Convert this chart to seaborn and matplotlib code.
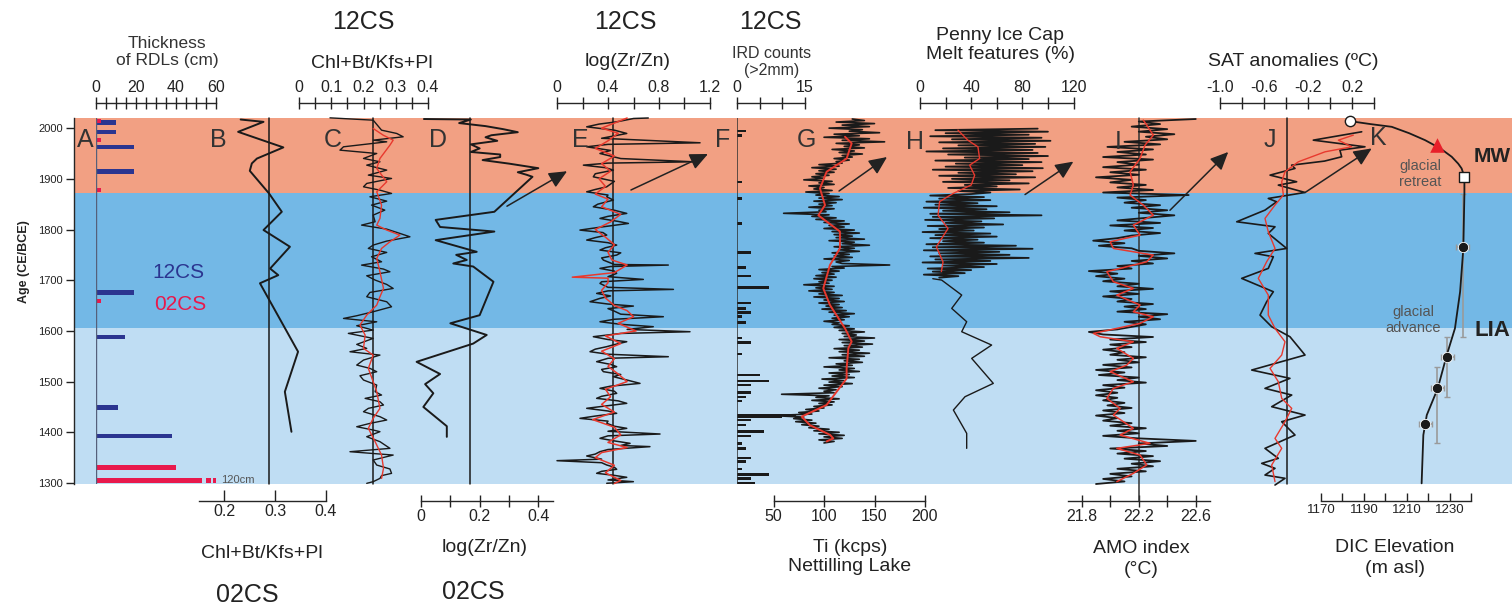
import numpy as np
import pandas as pd
import seaborn as sns
import matplotlib.pyplot as plt

sns.set_style("ticks")
plt.rcParams['font.family'] = ['Liberation Sans', 'DejaVu Sans']

# ---------------- data ----------------
# climate periods (CE)
period_lo = [1872, 1605, 1298]
period_hi = [2020, 1872, 1605]
period_colors = ['#F2A083', '#73B8E6', '#BFDDF3']

# A - thickness of RDLs (cm)
rdl12_years = [2011, 1992, 1963, 1915, 1676, 1588, 1449, 1393]
rdl12_cm = [10, 10, 19, 19, 19, 14.5, 11, 38]
rdl02_years = [2014, 1977, 1878, 1659, 1331, 1305]
rdl02_cm = [2.5, 2.5, 2.5, 2.5, 40, 120]
rdl_cap = 53  # longest bar is drawn broken at this length

# B - 02CS Chl+Bt/Kfs+Pl
b02_years = [2017, 2012.4, 1992.7, 1962, 1940, 1930.4, 1915.8, 1871, 1835, 1799,
             1766, 1723, 1710, 1694, 1559, 1480, 1401]
b02_vals = [0.232, 0.277, 0.227, 0.316, 0.264, 0.254, 0.250, 0.288, 0.313, 0.277,
            0.329, 0.290, 0.306, 0.270, 0.345, 0.319, 0.332]

# C - 12CS Chl+Bt/Kfs+Pl
c12_years = [2020.3, 2015.7, 1996.0, 1989.5, 1982.9, 1976.3, 1973.0, 1963.2, 1956.6, 1950.0,
             1940.2, 1933.6, 1927.0, 1917.2, 1907.3, 1900.7, 1890.9, 1884.3, 1877.7, 1871.2,
             1864.6, 1856.0, 1848.2, 1838.3, 1828.4, 1815.3, 1808.7, 1800.8, 1792.3, 1785.7,
             1777.2, 1769.3, 1762.7, 1754.8, 1746.3, 1736.4, 1729.8, 1722.0, 1716.7, 1708.8,
             1700.3, 1691.7, 1683.8, 1675.9, 1667.4, 1657.5, 1647.6, 1637.8, 1629.9, 1624.6,
             1618.0, 1610.2, 1601.6, 1595.1, 1585.2, 1573.4, 1565.5, 1558.9, 1552.3, 1542.5,
             1532.6, 1526.1, 1519.5, 1511.6, 1503.1, 1493.2, 1480.1, 1473.5, 1466.9, 1460.3,
             1453.8, 1447.2, 1440.6, 1430.8, 1424.2, 1417.6, 1411.0, 1404.5, 1401.2, 1391.3,
             1381.5, 1368.3, 1361.7, 1355.1, 1345.3, 1335.4, 1327.6, 1319.0, 1314.5, 1309.1,
             1302.6, 1299.3]
c12_vals = [0.096, 0.230, 0.256, 0.303, 0.323, 0.230, 0.272, 0.138, 0.127, 0.241,
            0.200, 0.251, 0.210, 0.272, 0.215, 0.287, 0.210, 0.200, 0.251, 0.287,
            0.220, 0.272, 0.225, 0.266, 0.230, 0.236, 0.194, 0.272, 0.313, 0.344,
            0.272, 0.230, 0.215, 0.272, 0.225, 0.256, 0.194, 0.262, 0.282, 0.210,
            0.236, 0.272, 0.292, 0.220, 0.210, 0.272, 0.287, 0.230, 0.179, 0.138,
            0.241, 0.179, 0.230, 0.153, 0.230, 0.179, 0.210, 0.158, 0.251, 0.200,
            0.179, 0.220, 0.241, 0.189, 0.200, 0.241, 0.236, 0.256, 0.205, 0.251,
            0.262, 0.215, 0.200, 0.251, 0.272, 0.220, 0.179, 0.230, 0.251, 0.210,
            0.251, 0.282, 0.158, 0.292, 0.230, 0.241, 0.282, 0.287, 0.256, 0.251,
            0.230, 0.210]
c12_smooth_years = [1999.3, 1986.2, 1976.3, 1966.5, 1940.2, 1920.5, 1894.2, 1874.4, 1848.2, 1821.9,
                    1808.7, 1798.9, 1789.0, 1775.9, 1762.7, 1743.0, 1716.7, 1683.8, 1667.4, 1650.9,
                    1631.2, 1611.5, 1591.8, 1565.5, 1552.3, 1526.1, 1499.8, 1480.1, 1447.2, 1427.5,
                    1407.8, 1381.5, 1355.1, 1328.9, 1309.1]
c12_smooth = [0.230, 0.261, 0.292, 0.282, 0.251, 0.241, 0.272, 0.241, 0.256, 0.251,
              0.241, 0.272, 0.313, 0.282, 0.256, 0.241, 0.251, 0.262, 0.251, 0.241,
              0.210, 0.189, 0.205, 0.200, 0.230, 0.215, 0.230, 0.241, 0.251, 0.230,
              0.215, 0.236, 0.256, 0.262, 0.256]

# D - 02CS log(Zr/Zn)
d02_years = [2018, 2017, 2010, 2004, 1998, 1992, 1986, 1982, 1975, 1968,
             1960, 1953, 1948, 1943, 1937, 1930, 1921, 1913, 1908, 1904,
             1835, 1819, 1805, 1796, 1779, 1756, 1750, 1740, 1733, 1727,
             1697, 1631, 1615, 1592, 1575, 1539, 1515, 1495, 1477, 1450,
             1412, 1391]
d02_vals = [0.01, 0.17, 0.13, 0.22, 0.28, 0.33, 0.24, 0.22, 0.26, 0.17,
            0.20, 0.17, 0.27, 0.27, 0.21, 0.30, 0.40, 0.33, 0.36, 0.38,
            0.25, 0.05, 0.065, 0.25, 0.05, 0.19, 0.12, 0.156, 0.11, 0.178,
            0.247, 0.20, 0.10, 0.224, 0.178, -0.015, 0.065, 0.014, 0.042, 0.008,
            0.088, 0.088]

# E - 12CS log(Zr/Zn)
e12_years = [2020, 2019, 2012.5, 2008, 2002.6, 1996, 1989.5, 1980, 1971.1, 1968,
             1963.2, 1956, 1950, 1940, 1933.6, 1931, 1927, 1922, 1917.2, 1910,
             1904, 1895, 1884.3, 1879, 1874.4, 1868, 1864.6, 1858.1, 1850, 1844.9,
             1838, 1831.8, 1826, 1821.9, 1816, 1812, 1805, 1798.9, 1794, 1789,
             1784, 1779.2, 1774, 1769.3, 1764, 1759.5, 1754, 1749.6, 1744, 1739.7,
             1731, 1729.9, 1727, 1723.3, 1718, 1713.5, 1707, 1701.6, 1697, 1693.7,
             1686, 1681.9, 1679, 1674, 1669, 1664.2, 1657.6, 1653, 1649, 1644,
             1639.9, 1633, 1628, 1623, 1618.1, 1613, 1608.3, 1603, 1598.4, 1595,
             1588.6, 1583, 1578.7, 1573, 1568.9, 1564, 1559, 1554, 1549.1, 1546,
             1539.3, 1534, 1529.4, 1524, 1519.6, 1514, 1509.7, 1503, 1496.5, 1491,
             1486.7, 1481, 1476.8, 1471, 1467, 1462, 1457.1, 1452, 1447.3, 1442,
             1437.4, 1432, 1427.5, 1422, 1417.7, 1412, 1407.8, 1402, 1396.6, 1393,
             1388.1, 1383, 1378.2, 1374, 1371.7, 1366, 1361.8, 1357, 1353.3, 1347,
             1344, 1340, 1335.5, 1331, 1327, 1323, 1319.1, 1315, 1311.2, 1306,
             1302.6, 1299.4]
e12_vals = [0.716, 0.60, 0.47, 0.33, 0.233, 0.45, 0.547, 0.35, 1.122, 0.40,
            0.233, 0.42, 0.337, 0.50, 1.069, 0.40, 0.207, 0.38, 0.442, 0.30,
            0.285, 0.45, 0.39, 0.30, 0.233, 0.40, 0.39, 0.442, 0.32, 0.285,
            0.45, 0.547, 0.40, 0.337, 0.48, 0.560, 0.35, 0.180, 0.36, 0.390,
            0.30, 0.233, 0.40, 0.468, 0.38, 0.337, 0.50, 0.468, 0.35, 0.364,
            0.45, 0.873, 0.42, 0.337, 0.45, 0.468, 0.40, 0.677, 0.35, 0.337,
            0.40, 0.913, 0.40, 0.311, 0.42, 0.337, 0.259, 0.40, 0.599, 0.40,
            0.442, 0.50, 0.834, 0.45, 0.337, 0.50, 0.755, 0.55, 1.043, 0.50,
            0.285, 0.40, 0.547, 0.45, 0.390, 0.30, 0.259, 0.40, 0.873, 0.40,
            0.311, 0.42, 0.468, 0.35, 0.364, 0.50, 0.442, 0.55, 0.651, 0.42,
            0.337, 0.45, 0.468, 0.35, 0.311, 0.48, 0.547, 0.38, 0.233, 0.40,
            0.468, 0.30, 0.180, 0.40, 0.390, 0.45, 0.547, 0.40, 0.808, 0.40,
            0.337, 0.45, 0.573, 0.50, 0.729, 0.40, 0.337, 0.30, 0.233, 0.35,
            0.0, 0.35, 0.390, 0.45, 0.468, 0.35, 0.311, 0.45, 0.547, 0.40,
            0.599, 0.390]
e12_smooth_years = [2020, 2010, 2000, 1990, 1975, 1960, 1945, 1930, 1915, 1900,
                    1885, 1870, 1860, 1845, 1830, 1815, 1800, 1785, 1770, 1755,
                    1740, 1730, 1715, 1706, 1704, 1695, 1680, 1665, 1650, 1640,
                    1628, 1615, 1600, 1590, 1575, 1560, 1545, 1530, 1515, 1500,
                    1485, 1470, 1455, 1440, 1425, 1410, 1395, 1380, 1370, 1360,
                    1350, 1335, 1320, 1305, 1299]
e12_smooth = [0.55, 0.45, 0.35, 0.48, 0.40, 0.30, 0.45, 0.35, 0.42, 0.33,
              0.38, 0.30, 0.40, 0.35, 0.50, 0.42, 0.30, 0.38, 0.45, 0.40,
              0.43, 0.55, 0.45, 0.12, 0.40, 0.40, 0.35, 0.38, 0.45, 0.55,
              0.60, 0.48, 0.62, 0.38, 0.50, 0.35, 0.45, 0.40, 0.48, 0.55,
              0.38, 0.42, 0.35, 0.45, 0.28, 0.45, 0.50, 0.40, 0.55, 0.35,
              0.30, 0.45, 0.38, 0.50, 0.45]

# F - IRD counts (>2 mm), 12CS
ird_years = [1994, 1986, 1894, 1861, 1812, 1755, 1725, 1708, 1686, 1655,
             1644, 1636, 1628, 1617, 1586, 1577, 1554, 1513, 1501, 1493,
             1478, 1470, 1462, 1434, 1430, 1424, 1414, 1402, 1393, 1378,
             1368, 1349, 1342, 1328, 1317, 1309, 1300]
ird_counts = [2, 1, 1, 1, 1, 3, 2, 3, 7, 3,
              2, 3, 1, 2, 1, 3, 1, 5, 7, 3,
              3, 2, 1, 13, 10, 3, 2, 6, 3, 1,
              2, 3, 2, 1, 7, 3, 4]

# G - Ti (kcps) Nettilling Lake, 3-yr samples from 2018 downward
ti_start, ti_step = 2018, 3
ti_vals = [128, 140, 112, 150, 118, 145, 105, 138, 125, 155, 110, 135, 100, 145, 118, 160,
           112, 135, 120, 140, 108, 130, 115, 138, 118, 128, 110, 125, 112, 118, 95, 115,
           88, 112, 95, 110, 92, 105, 88, 100, 80, 108, 95, 110, 85, 100, 90, 108,
           82, 105, 92, 115, 95, 118, 90, 112, 95, 108, 85, 110, 95, 102, 60, 105,
           88, 112, 92, 120, 100, 125, 105, 120, 100, 130, 108, 135, 110, 128, 112, 140,
           105, 130, 118, 145, 110, 130, 115, 135, 108, 125, 110, 128, 100, 125, 112, 118,
           165, 108, 120, 95, 115, 98, 110, 92, 112, 90, 108, 95, 105, 80, 110, 92,
           108, 85, 110, 95, 118, 90, 115, 100, 120, 95, 115, 102, 118, 98, 122, 105,
           130, 110, 125, 108, 120, 100, 115, 108, 125, 110, 130, 115, 140, 118, 132, 120,
           150, 115, 140, 118, 148, 120, 138, 110, 135, 115, 145, 118, 140, 105, 135, 120,
           138, 112, 128, 100, 130, 115, 135, 105, 125, 108, 130, 98, 120, 105, 128, 100,
           118, 95, 112, 100, 110, 58, 105, 92, 115, 88, 110, 95, 108, 90, 100, 82,
           95, 75, 88, 48, 80, 70, 88, 72, 92, 78, 95, 85, 105, 90, 115, 95,
           120, 100, 118, 95, 110, 100]
ti_smooth_years = [1983, 1970, 1940, 1914, 1881, 1848, 1828, 1796, 1763, 1730, 1684, 1651,
                   1605, 1579, 1566, 1526, 1506, 1480, 1454, 1431, 1414, 1395, 1388, 1382]
ti_smooth = [120.8, 127.4, 122.4, 102.6, 96.0, 101.0, 94.4, 115.8, 115.8, 105.9, 99.3, 105.9,
             120.8, 127.4, 124.1, 122.4, 122.4, 112.5, 102.6, 77.9, 86.1, 105.9, 109.2, 102.6]

# H - Penny Ice Cap melt features (%), 3-yr samples from 1999 downward
melt_start, melt_step = 1999, 3
melt_vals = [92, 12, 100, 20, 85, 8, 95, 25, 102, 15, 90, 30, 98, 18, 88, 5,
             92, 22, 100, 35, 85, 12, 95, 28, 80, 20, 96, 10, 88, 30, 75, 15,
             90, 25, 70, 18, 85, 35, 60, 22, 78, 30, 55,
             40, 8, 50, 15, 55, 5, 45, 12, 60, 3, 52, 18, 70, 8, 95, 10,
             58, 4, 48, 20, 65, 6, 50, 15, 42, 2, 55, 12, 60, 8, 45, 18,
             50, 5, 75, 10, 88, 3, 62, 15, 70, 8, 85, 12, 55, 2, 60, 18,
             50, 6, 40, 10, 35, 3, 30, 15]
melt_low_years = [1703, 1700.3, 1670.7, 1644.4, 1618.1, 1598.4, 1572.1, 1545.8, 1496.5,
                  1470.2, 1443.9, 1397.9, 1368.3]
melt_low_vals = [10, 16.9, 32.6, 24.8, 36.5, 32.6, 56.0, 40.4, 57.3, 35.2, 26.1, 36.5, 36.5]
melt_smooth_years = [1996, 1976, 1963, 1940, 1927, 1907, 1888, 1871, 1855, 1828, 1802, 1766,
                     1736, 1717]
melt_smooth = [29.7, 37.5, 45.3, 46.6, 38.8, 42.7, 40.1, 25.8, 15.3, 14.1, 21.9, 12.8,
               18.0, 16.7]

# I - AMO index (degC), 5-yr samples from 2018 downward
amo_start, amo_step = 2018, 5
amo_vals = [22.60, 22.20, 22.35, 22.15, 22.40, 22.20, 22.45, 22.25, 22.40, 22.10,
            22.35, 21.98, 22.30, 22.05, 22.25, 21.95, 22.30, 22.05, 22.20, 21.95,
            22.25, 22.00, 22.20, 21.90, 22.15, 22.00, 22.25, 22.05, 22.30, 21.95,
            22.55, 22.05, 22.25, 22.10, 22.35, 22.15, 22.40, 22.20, 22.45, 22.25,
            22.05, 22.35, 22.00, 22.30, 22.10, 22.35, 22.15, 22.05, 21.88, 22.10,
            21.92, 22.15, 22.20, 22.45, 22.20, 22.40, 22.15, 22.30, 22.05, 22.15,
            21.85, 22.05, 21.90, 22.10, 21.95, 22.20, 22.05, 22.30, 22.00, 22.20,
            21.95, 22.15, 22.05, 22.30, 22.10, 22.25, 22.05, 22.40, 22.20, 22.35,
            22.10, 22.25, 22.15, 22.05, 21.85, 21.95, 22.30, 22.00, 22.25, 22.00,
            22.15, 21.95, 22.10, 22.00, 22.25, 22.05, 22.20, 21.95, 22.15, 21.90,
            22.10, 21.92, 22.20, 22.05, 22.25, 21.95, 22.10, 21.90, 22.05, 21.90,
            22.05, 21.95, 22.10, 21.98, 22.15, 21.95, 22.10, 21.90, 22.05, 21.95,
            22.15, 22.00, 22.25, 22.05, 22.20, 21.95, 22.20, 22.60, 22.20, 22.40,
            22.00, 22.25, 22.05, 22.30, 22.10, 22.35, 22.15, 22.30, 22.05, 22.25,
            22.00, 22.15, 21.95, 22.10, 21.90]
amo_smooth_years = [2015.8, 2005.9, 1986.2, 1966.5, 1940.2, 1913.9, 1887.6, 1867.9, 1848.2, 1828.4,
                    1808.7, 1789.0, 1775.9, 1762.7, 1749.6, 1736.4, 1716.7, 1697.0, 1683.8, 1670.7,
                    1651.0, 1637.8, 1628.0, 1614.8, 1595.1, 1588.5, 1578.7, 1565.5, 1545.8, 1532.6,
                    1519.5, 1499.8, 1486.6, 1466.9, 1447.2, 1434.0, 1407.8, 1394.6, 1378.2, 1368.3,
                    1355.1, 1335.5, 1319.0, 1302.6]
amo_smooth = [22.232, 22.256, 22.302, 22.244, 22.209, 22.139, 22.162, 22.139, 22.232, 22.302,
              22.162, 22.209, 21.999, 22.022, 22.302, 22.256, 21.976, 22.022, 22.162, 22.046,
              22.209, 22.162, 22.302, 22.209, 21.882, 21.929, 22.162, 22.046, 22.162, 22.116,
              21.999, 22.162, 22.022, 21.976, 22.069, 22.022, 22.162, 22.069, 22.279, 22.046,
              22.209, 22.256, 22.162, 22.046]

# J - SAT anomalies (degC)
sat_years = [1992.8, 1976.3, 1963.2, 1956.6, 1943.5, 1935, 1927.0, 1920.5, 1907.3, 1894.2,
             1887.6, 1873.1, 1861.3, 1854.7, 1838.3, 1815.3, 1805.4, 1792.3, 1762.7, 1752.9,
             1746.3, 1723.3, 1703.6, 1677.3, 1657.5, 1631.2, 1608.2, 1588.5, 1552.4, 1522.8,
             1506.4, 1486.6, 1473.5, 1450.5, 1434.0, 1420.9, 1394.6, 1368.3, 1348.6, 1338.7,
             1328.9, 1315.7, 1309.2, 1296.0]
sat_vals = [0.288, -0.152, 0.318, 0.090, 0.106, -0.05, -0.349, -0.318, -0.545, -0.303,
            -0.470, -0.227, -0.561, -0.485, -0.591, -0.848, -0.500, -0.561, -0.394, -0.682,
            -0.515, -0.561, -0.803, -0.515, -0.576, -0.636, -0.530, -0.364, -0.227, -0.712,
            -0.364, -0.591, -0.348, -0.530, -0.227, -0.439, -0.318, -0.591, -0.470, -0.621,
            -0.500, -0.591, -0.409, -0.500]
sat_smooth_years = [1986.2, 1976.3, 1963.2, 1953.3, 1933.6, 1913.9, 1894.2, 1867.9, 1848.2, 1821.9,
                    1795.6, 1762.7, 1736.4, 1703.6, 1670.7, 1631.2, 1604.9, 1578.7, 1552.4, 1526.1,
                    1499.8, 1466.9, 1447.2, 1420.9, 1388.0, 1368.3, 1335.5, 1302.6]
sat_smooth = [0.212, 0.076, 0.197, -0.045, -0.288, -0.409, -0.439, -0.424, -0.500, -0.591,
              -0.561, -0.500, -0.576, -0.652, -0.561, -0.561, -0.500, -0.409, -0.439, -0.545,
              -0.470, -0.439, -0.348, -0.409, -0.500, -0.439, -0.530, -0.500]

# K - DIC elevation (m asl)
dic_years = [2013.8, 2008, 2002.6, 1990, 1976.3, 1960, 1943.5, 1930, 1920.5, 1904,
             1871.2, 1762.7, 1677.3, 1604.9, 1552.4, 1486.6, 1434, 1394.6, 1299.3]
dic_elev = [1183.5, 1193, 1202.9, 1211, 1218.4, 1225.5, 1230.8, 1233.8, 1235.4, 1236.7,
            1236.7, 1236.2, 1234.7, 1232.3, 1228.5, 1224.3, 1219.2, 1217.6, 1216.8]
dic_dot_years = [1764.7, 1548, 1486.6, 1415.6]
dic_dot_elev = [1235.9, 1228.8, 1224.1, 1218.5]
dic_dot_err = [3, 3, 3, 3]
dic_age_elev = [1236.2, 1228.5, 1224.1]
dic_age_lo = [1588, 1470, 1378]
dic_age_hi = [1871, 1587, 1529]

# ---------------- layout (pixels) ----------------
W, H = 1512, 607
TOP, BOT = 118, 484
YR_BOT, YR_TOP = 1298, 2020
INK = '#1a1a1a'
RED = '#E8392E'
NAVY = '#2B3590'
CRIMSON = '#E8194C'

fig = plt.figure(figsize=(W / 100, H / 100), dpi=100)


def T(x, y, s, **kw):
    kw.setdefault('ha', 'center')
    kw.setdefault('va', 'center')
    kw.setdefault('color', '#222222')
    fig.text(x / W, 1 - y / H, s, **kw)


def panel(x0, x1, lo, hi):
    ax = fig.add_axes([x0 / W, (H - BOT) / H, (x1 - x0) / W, (BOT - TOP) / H])
    ax.patch.set_visible(False)
    for s in ax.spines.values():
        s.set_visible(False)
    ax.set_yticks([])
    ax.set_xticks([])
    ax.set_xlim(lo, hi)
    ax.set_ylim(YR_BOT, YR_TOP)
    return ax


def scale(ax, side, ticks, labels, size=11.5, direction='inout', length=8):
    lo, hi = ax.get_xlim()
    sp = ax.spines[side]
    sp.set_visible(True)
    sp.set_linewidth(1.0)
    sp.set_position(('outward', (15 if side == 'top' else 17) * 0.72))
    ax.set_xticks(ticks)
    ax.set_xticklabels(labels)
    ax.tick_params(axis='x', direction=direction, length=length, width=1, labelsize=size,
                   pad=2, colors='#222222', top=side == 'top', bottom=side == 'bottom',
                   labeltop=side == 'top', labelbottom=side == 'bottom')
    ax.set_xlim(lo, hi)


def trace(ax, vals, years, color=INK, lw=1.1):
    lo, hi = ax.get_xlim()
    sns.lineplot(x=vals, y=years, sort=False, estimator=None, ax=ax, color=color, lw=lw)
    ax.set_xlabel('')
    ax.set_ylabel('')
    ax.set_xlim(lo, hi)
    ax.set_ylim(YR_BOT, YR_TOP)
    for ln in ax.lines:
        ln.set_clip_on(False)


def arrow(ax, tail, head):
    ax.annotate('', xy=head, xytext=tail, annotation_clip=False,
                arrowprops=dict(arrowstyle='-|>,head_length=0.55,head_width=0.25',
                                mutation_scale=20, color='#222222', lw=1.1,
                                shrinkA=0, shrinkB=0))


# background periods + age axis
ax0 = fig.add_axes([74 / W, (H - BOT) / H, (W - 74) / W, (BOT - TOP) / H])
for lo, hi, c in zip(period_lo, period_hi, period_colors):
    ax0.axhspan(lo, hi, color=c, lw=0)
ax0.set_ylim(YR_BOT, YR_TOP)
ax0.set_xlim(0, 1)
ax0.set_xticks([])
ax0.set_yticks(range(1300, 2001, 100))
ax0.tick_params(axis='y', length=6, width=1, labelsize=8, pad=2, colors='#222222')
for s in ['top', 'right', 'bottom']:
    ax0.spines[s].set_visible(False)
ax0.spines['left'].set_linewidth(1.0)
T(24, 262, 'Age (CE/BCE)', rotation=90, fontsize=9, fontweight='bold')

# A
axA = panel(96, 216, 0, 60)
axA.axvline(0, color='#55607a', lw=1)
axA.barh(rdl12_years, rdl12_cm, height=9, color=NAVY, lw=0)
axA.barh(rdl02_years, np.minimum(rdl02_cm, rdl_cap), height=9, color=CRIMSON, lw=0)
long02 = [y for y, v in zip(rdl02_years, rdl02_cm) if v > rdl_cap]
for y in long02:
    axA.barh([y, y], [2.5, 2.5], left=[rdl_cap + 2, rdl_cap + 5.5], height=9, color=CRIMSON, lw=0)
    axA.text(rdl_cap + 9.5, y, '%dcm' % max(rdl02_cm), fontsize=8, color='#555555',
             va='center', ha='left', clip_on=False)
scale(axA, 'top', list(range(0, 61, 5)),
      ['0', '', '', '', '20', '', '', '', '40', '', '', '', '60'])

# B
axB = panel(199, 326, 0.15, 0.40)
axB.axvline(0.288, color=INK, lw=1.1)
trace(axB, b02_vals, b02_years, lw=1.4)
scale(axB, 'bottom', [0.2, 0.3, 0.4], ['0.2', '0.3', '0.4'], direction='in')

# C
axC = panel(299, 428, 0, 0.4)
axC.axvline(0.229, color=INK, lw=1.1)
trace(axC, c12_vals, c12_years, lw=1.0)
trace(axC, c12_smooth, c12_smooth_years, color=RED, lw=1.0)
scale(axC, 'top', [0, 0.05, 0.1, 0.15, 0.2, 0.25, 0.3, 0.35, 0.4],
      ['0', '', '0.1', '', '0.2', '', '0.3', '', '0.4'])

# D
axD = panel(421, 553, 0, 0.45)
axD.axvline(0.167, color=INK, lw=1.1)
trace(axD, d02_vals, d02_years, lw=1.4)
scale(axD, 'bottom', [0, 0.1, 0.2, 0.3, 0.4], ['0', '', '0.2', '', '0.4'])
arrow(axD, (0.293, 1846), (0.498, 1915))

# E
axE = panel(557, 710, 0, 1.2)
axE.axvline(0.44, color=INK, lw=1.1)
trace(axE, e12_vals, e12_years, lw=1.1)
trace(axE, e12_smooth, e12_smooth_years, color=RED, lw=1.1)
scale(axE, 'top', [0, 0.2, 0.4, 0.6, 0.8, 1.0, 1.2], ['0', '', '0.4', '', '0.8', '', '1.2'])
arrow(axE, (0.58, 1878), (1.184, 1949))

# F
axF = panel(737, 805, 0, 15)
axF.axvline(0, color='#333333', lw=1.1)
axF.barh(ird_years, ird_counts, height=5, color=INK, lw=0)
scale(axF, 'top', [0, 5, 10, 15], ['0', '', '', '15'])

# G
axG = panel(773.5, 925, 50, 200)
ti_years = ti_start - ti_step * np.arange(len(ti_vals))
trace(axG, ti_vals, ti_years, lw=1.2)
trace(axG, ti_smooth, ti_smooth_years, color=RED, lw=1.4)
scale(axG, 'bottom', [50, 100, 150, 200], ['50', '100', '150', '200'])
arrow(axG, (114.9, 1876), (162.4, 1943))

# H
axH = panel(920, 1073.5, 0, 120)
melt_years = melt_start - melt_step * np.arange(len(melt_vals))
trace(axH, melt_vals, melt_years, lw=1.3)
trace(axH, melt_low_vals, melt_low_years, lw=1.0)
trace(axH, melt_smooth, melt_smooth_years, color=RED, lw=1.0)
scale(axH, 'top', [0, 20, 40, 60, 80, 100, 120], ['0', '', '40', '', '80', '', '120'])
arrow(axH, (82.1, 1869), (119.9, 1934))

# I
axI = panel(1067.5, 1210, 21.7, 22.7)
axI.axvline(22.2, ymin=-0.046, color='#333333', lw=1.1, clip_on=False)
amo_years = amo_start - amo_step * np.arange(len(amo_vals))
trace(axI, amo_vals, amo_years, lw=1.3)
trace(axI, amo_smooth, amo_smooth_years, color=RED, lw=1.1)
scale(axI, 'bottom', [21.8, 22.0, 22.2, 22.4, 22.6], ['21.8', '', '22.2', '', '22.6'])
arrow(axI, (22.419, 1838), (22.828, 1953))

# J
axJ = panel(1220, 1374, -1.0, 0.4)
axJ.axvline(-0.39, color=INK, lw=1.1)
trace(axJ, sat_vals, sat_years, lw=1.2)
trace(axJ, sat_smooth, sat_smooth_years, color=RED, lw=1.0)
scale(axJ, 'top', [-1.0, -0.8, -0.6, -0.4, -0.2, 0.0, 0.2, 0.4],
      ['-1.0', '', '-0.6', '', '-0.2', '', '0.2', ''])
arrow(axJ, (-0.227, 1873), (0.379, 1960))

# K
axK = panel(1321, 1471.5, 1170, 1240)
axK.errorbar(dic_age_elev, [(a + b) / 2 for a, b in zip(dic_age_lo, dic_age_hi)],
             yerr=[(b - a) / 2 for a, b in zip(dic_age_lo, dic_age_hi)],
             fmt='none', ecolor='#9a9a9a', elinewidth=1.2, capsize=2.5)
trace(axK, dic_elev, dic_years, lw=1.3)
axK.errorbar(dic_dot_elev, dic_dot_years, xerr=dic_dot_err, fmt='none', ecolor='#9a9a9a',
             elinewidth=1.2, capsize=2.5)
sns.scatterplot(x=dic_dot_elev, y=dic_dot_years, ax=axK, color=INK, s=55, zorder=5)
sns.scatterplot(x=[dic_elev[0]], y=[dic_years[0]], ax=axK, color='white', edgecolor=INK,
                linewidth=1, s=55, zorder=5)
sns.scatterplot(x=[1223.8], y=[1966.5], ax=axK, color='#E8202A', marker='^', s=110,
                linewidth=0, zorder=5)
sns.scatterplot(x=[dic_elev[9]], y=[dic_years[9]], ax=axK, color='white', edgecolor=INK,
                marker='s', linewidth=1, s=60, zorder=5)
for c in axK.collections:
    c.set_clip_on(False)
axK.set_xlim(1170, 1240)
axK.set_ylim(YR_BOT, YR_TOP)
scale(axK, 'bottom', list(range(1170, 1241, 10)),
      ['1170', '', '1190', '', '1210', '', '1230', ''], size=9.5, direction='in', length=6)

# ---------------- text ----------------
T(167, 52, 'Thickness\nof RDLs (cm)', fontsize=12.5, linespacing=1.15, color='#333333')
T(363, 22, '12CS', fontsize=18)
T(372, 64, 'Chl+Bt/Kfs+Pl', fontsize=14)
T(625, 22, '12CS', fontsize=18)
T(628, 62, 'log(Zr/Zn)', fontsize=14)
T(770, 22, '12CS', fontsize=18)
T(772, 62, 'IRD counts\n(>2mm)', fontsize=11.5, linespacing=1.2, color='#333333')
T(1000, 45, 'Penny Ice Cap\nMelt features (%)', fontsize=14, linespacing=1.2)
T(1293, 61, 'SAT anomalies (ºC)', fontsize=14)

T(262, 554, 'Chl+Bt/Kfs+Pl', fontsize=14)
T(247, 595, '02CS', fontsize=18)
T(485, 548, 'log(Zr/Zn)', fontsize=14)
T(473, 592, '02CS', fontsize=18)
T(850, 557, 'Ti (kcps)\nNettilling Lake', fontsize=14, linespacing=1.2)
T(1141, 559, 'AMO index\n(°C)', fontsize=14, linespacing=1.25)
T(1395, 558, 'DIC Elevation\n(m asl)', fontsize=14, linespacing=1.25)

T(178, 272, '12CS', fontsize=15, color=NAVY)
T(180, 305, '02CS', fontsize=15, color=CRIMSON)

for letter, lx, ly in zip('ABCDEFGHIJK',
                          [85, 218, 333, 438, 580, 723, 806, 915, 1118, 1270, 1378],
                          [140, 140, 140, 140, 140, 140, 140, 142, 142, 140, 138]):
    T(lx, ly, letter, fontsize=18, color='#333333')

T(1420, 174, 'glacial\nretreat', fontsize=10.5, color='#555555', linespacing=1.2)
T(1413, 320, 'glacial\nadvance', fontsize=10.5, color='#555555', linespacing=1.2)
T(1474, 156, 'MW', fontsize=15, fontweight='bold', ha='left')
T(1474, 330, 'LIA', fontsize=16, fontweight='bold', ha='left')

fig.savefig('out.png', dpi=100)
